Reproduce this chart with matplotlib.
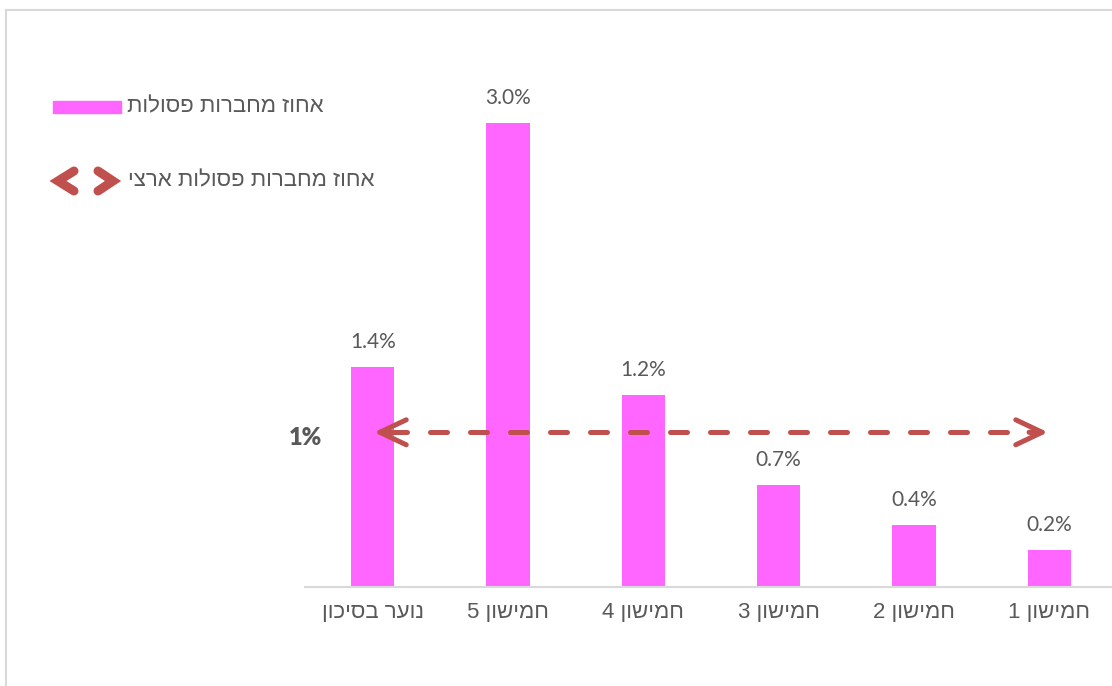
import matplotlib.pyplot as plt
from matplotlib.lines import Line2D
from matplotlib.patches import Rectangle

# data (Hebrew kept in logical order, reversed for display since matplotlib has no bidi)
categories = ["נוער בסיכון", "חמישון 5", "חמישון 4", "חמישון 3", "חמישון 2", "חמישון 1"]
share_invalid = [1.42, 3.0, 1.24, 0.66, 0.40, 0.24]
national_share = 1.0
legend_bars = "אחוז מחברות פסולות"
legend_national = "אחוז מחברות פסולות ארצי"

PINK = "#FF66FF"
RED = "#C0504D"
GRAY = "#595959"
LIGHT = "#D9D9D9"
HEB = ["Liberation Sans", "DejaVu Sans"]
NUM = ["Lato", "DejaVu Sans"]


def vis(s):
    # visual order for right-to-left text
    return s[::-1]


fig = plt.figure(figsize=(11.12, 6.86), dpi=100)

# outer chart border (left and top edges visible)
fig.add_artist(Line2D([6 / 1112, 6 / 1112], [0, 1 - 10 / 686], transform=fig.transFigure,
                      color=LIGHT, lw=1.5))
fig.add_artist(Line2D([6 / 1112, 1], [1 - 10 / 686, 1 - 10 / 686], transform=fig.transFigure,
                      color=LIGHT, lw=1.5))

ax = fig.add_axes([305 / 1112, 99 / 686, (1112 - 305) / 1112, 3.5 * 154.7 / 686])
x = list(range(len(categories)))
ax.bar(x, share_invalid, width=0.32, color=PINK)
ax.set_xlim(-0.5, 5.463)
ax.set_ylim(0, 3.5)

for xi, v in zip(x, share_invalid):
    ax.annotate(f"{v:.1f}%", (xi, v), xytext=(0, 18), textcoords="offset points",
                ha="center", va="center", fontsize=15, color=GRAY, family=NUM)

# national average: dashed line with solid open heads at both ends
x_left, x_right = x[0] + 0.01, x[-1] - 0.01
ax.plot([x_left + 0.12, x_right - 0.12], [national_share, national_share], color=RED,
        lw=3.6, dashes=(3.4, 4.6), dash_capstyle="round")
for tip, tail in ((x_left, x_left + 0.14), (x_right, x_right - 0.14)):
    ax.annotate("", xy=(tip, national_share), xytext=(tail, national_share),
                arrowprops=dict(arrowstyle="->,head_length=1.9,head_width=0.9", color=RED,
                                lw=3.6, capstyle="round", joinstyle="round",
                                shrinkA=0, shrinkB=0))
ax.annotate("1%", (-0.5, national_share), xytext=(0, -4), textcoords="offset points",
            ha="center", va="center", fontsize=17, fontweight="heavy", color=GRAY, family=NUM)

ax.set_xticks(x)
ax.set_xticklabels([vis(c) for c in categories], fontsize=16, color=GRAY, family=HEB)
ax.tick_params(axis="x", length=0, pad=11)
ax.set_yticks([])
for side in ["left", "right", "top"]:
    ax.spines[side].set_visible(False)
ax.spines["bottom"].set_color(LIGHT)
ax.spines["bottom"].set_linewidth(1.5)

# legend drawn by hand
fig.add_artist(Rectangle((53 / 1112, 1 - 113 / 686), 68 / 1112, 12 / 686,
                         transform=fig.transFigure, color=PINK))
fig.text(127 / 1112, 1 - 107 / 686, vis(legend_bars), ha="left", va="center",
         fontsize=16, color=GRAY, family=HEB)
y_leg = 1 - 181 / 686
for pts in ([(74, -10), (58, 0), (74, 10)], [(98, -10), (113, 0), (98, 10)]):
    fig.add_artist(Line2D([p[0] / 1112 for p in pts], [y_leg + p[1] / 686 for p in pts],
                          transform=fig.transFigure, color=RED, lw=6.5,
                          solid_capstyle="round", solid_joinstyle="miter"))
fig.text(128 / 1112, y_leg, vis(legend_national), ha="left", va="center",
         fontsize=16, color=GRAY, family=HEB)

plt.savefig("out.png", dpi=100)
